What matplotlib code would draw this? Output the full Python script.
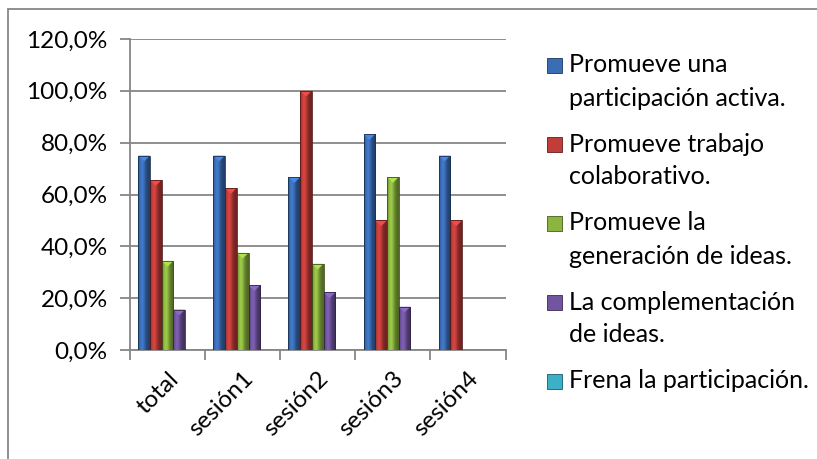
import numpy as np
import matplotlib.pyplot as plt
from matplotlib.patches import Rectangle
from matplotlib.ticker import FuncFormatter
from matplotlib.colors import to_rgb

plt.rcParams['font.family'] = ['Lato', 'DejaVu Sans']

# survey results per session (percent of answers)
categories = ['total', 'sesión1', 'sesión2', 'sesión3', 'sesión4']
series_names = ['Promueve una\nparticipación activa.',
                'Promueve trabajo\ncolaborativo.',
                'Promueve la\ngeneración de ideas.',
                'La complementación\nde ideas.',
                'Frena la participación.']
participacion = [75.0, 75.0, 66.7, 83.3, 75.0]
colaborativo = [65.6, 62.5, 100.0, 50.0, 50.0]
ideas = [34.4, 37.5, 33.3, 66.7, 0.0]
complementacion = [15.6, 25.0, 22.2, 16.7, 0.0]
frena = [0.0, 0.0, 0.0, 0.0, 0.0]
yticks = [0, 20, 40, 60, 80, 100, 120]

values = [participacion, colaborativo, ideas, complementacion, frena]
colors = ['#3a6db6', '#c03d3a', '#8cb540', '#7155a0', '#3db0c9']

fig = plt.figure(figsize=(8.17, 4.59), dpi=100)
ax = fig.add_axes([130 / 817, 1 - 350 / 459, 375.5 / 817, 311 / 459])

# outer frame of the chart
fig.add_artist(Rectangle((8 / 817, -0.1), 1.2, (459 - 9) / 459 + 0.1,
                         transform=fig.transFigure, fill=False,
                         edgecolor='#868686', lw=1.3))


def shade(color, n=64):
    # horizontal glossy profile: darker edges, light band left of centre
    base = np.array(to_rgb(color))
    t = np.linspace(0, 1, n)
    k = 0.72 + 0.45 * np.exp(-((t - 0.35) / 0.28) ** 2) - 0.15 * t
    return np.clip(base[None, :] * k[:, None], 0, 1)[None, :, :]


x = np.arange(len(categories))
width = 0.156
for i, (vals, col) in enumerate(zip(values, colors)):
    offs = x + (i - 2) * width
    bars = ax.bar(offs, vals, width, color=col, edgecolor='none', zorder=3)
    grad = shade(col)
    for b in bars:
        h = b.get_height()
        if h <= 0:
            continue
        x0 = b.get_x()
        im = ax.imshow(grad, extent=[x0, x0 + width, 0, h], aspect='auto',
                       zorder=3.5, interpolation='bilinear')
        im.set_clip_path(b)
        # bevelled top
        tri = plt.Polygon([[x0, h], [x0 + width, h], [x0 + width / 2, h - 2.2]],
                          closed=True, color=np.clip(np.array(to_rgb(col)) * 1.25, 0, 1),
                          zorder=3.6, lw=0)
        ax.add_patch(tri)
        ax.add_patch(Rectangle((x0, 0), width, h, fill=False,
                               edgecolor=np.array(to_rgb(col)) * 0.45,
                               lw=0.6, zorder=3.7))

ax.set_xlim(-0.5, len(categories) - 0.5)
ax.set_ylim(0, 120)
ax.set_yticks(yticks)
ax.yaxis.set_major_formatter(FuncFormatter(lambda v, p: f'{v:.1f}%'.replace('.', ',')))
ax.grid(axis='y', color='#868686', lw=1.3, zorder=0)

ax.set_xticks(np.arange(len(categories) + 1) - 0.5)
ax.set_xticklabels([])
ax.set_xticks(x, minor=True)
ax.set_xticklabels(categories, minor=True, rotation=45, ha='right',
                   rotation_mode='anchor', fontsize=17.5)
ax.tick_params(axis='x', which='minor', length=0, pad=13)
ax.tick_params(axis='x', which='major', length=7, width=1.3, color='#868686')
ax.tick_params(axis='y', length=7, width=1.3, color='#868686', labelsize=17.5, pad=9)

for s in ['top', 'right']:
    ax.spines[s].set_visible(False)
for s in ['left', 'bottom']:
    ax.spines[s].set_color('#868686')
    ax.spines[s].set_linewidth(1.3)

# legend drawn as markers plus wrapped labels
top = 65
step = 79
for i, (name, col) in enumerate(zip(series_names, colors)):
    yc = top + i * step
    fig.add_artist(Rectangle((547 / 817, 1 - (yc + 8) / 459), 15 / 817, 15 / 459,
                             transform=fig.transFigure, facecolor=col,
                             edgecolor=np.array(to_rgb(col)) * 0.5, lw=0.6))
    for j, line in enumerate(name.split('\n')):
        fig.text(569 / 817, 1 - (yc + j * 33) / 459, line, fontsize=18,
                 va='center', ha='left', color='#000000')

fig.savefig('out.png', dpi=100)
